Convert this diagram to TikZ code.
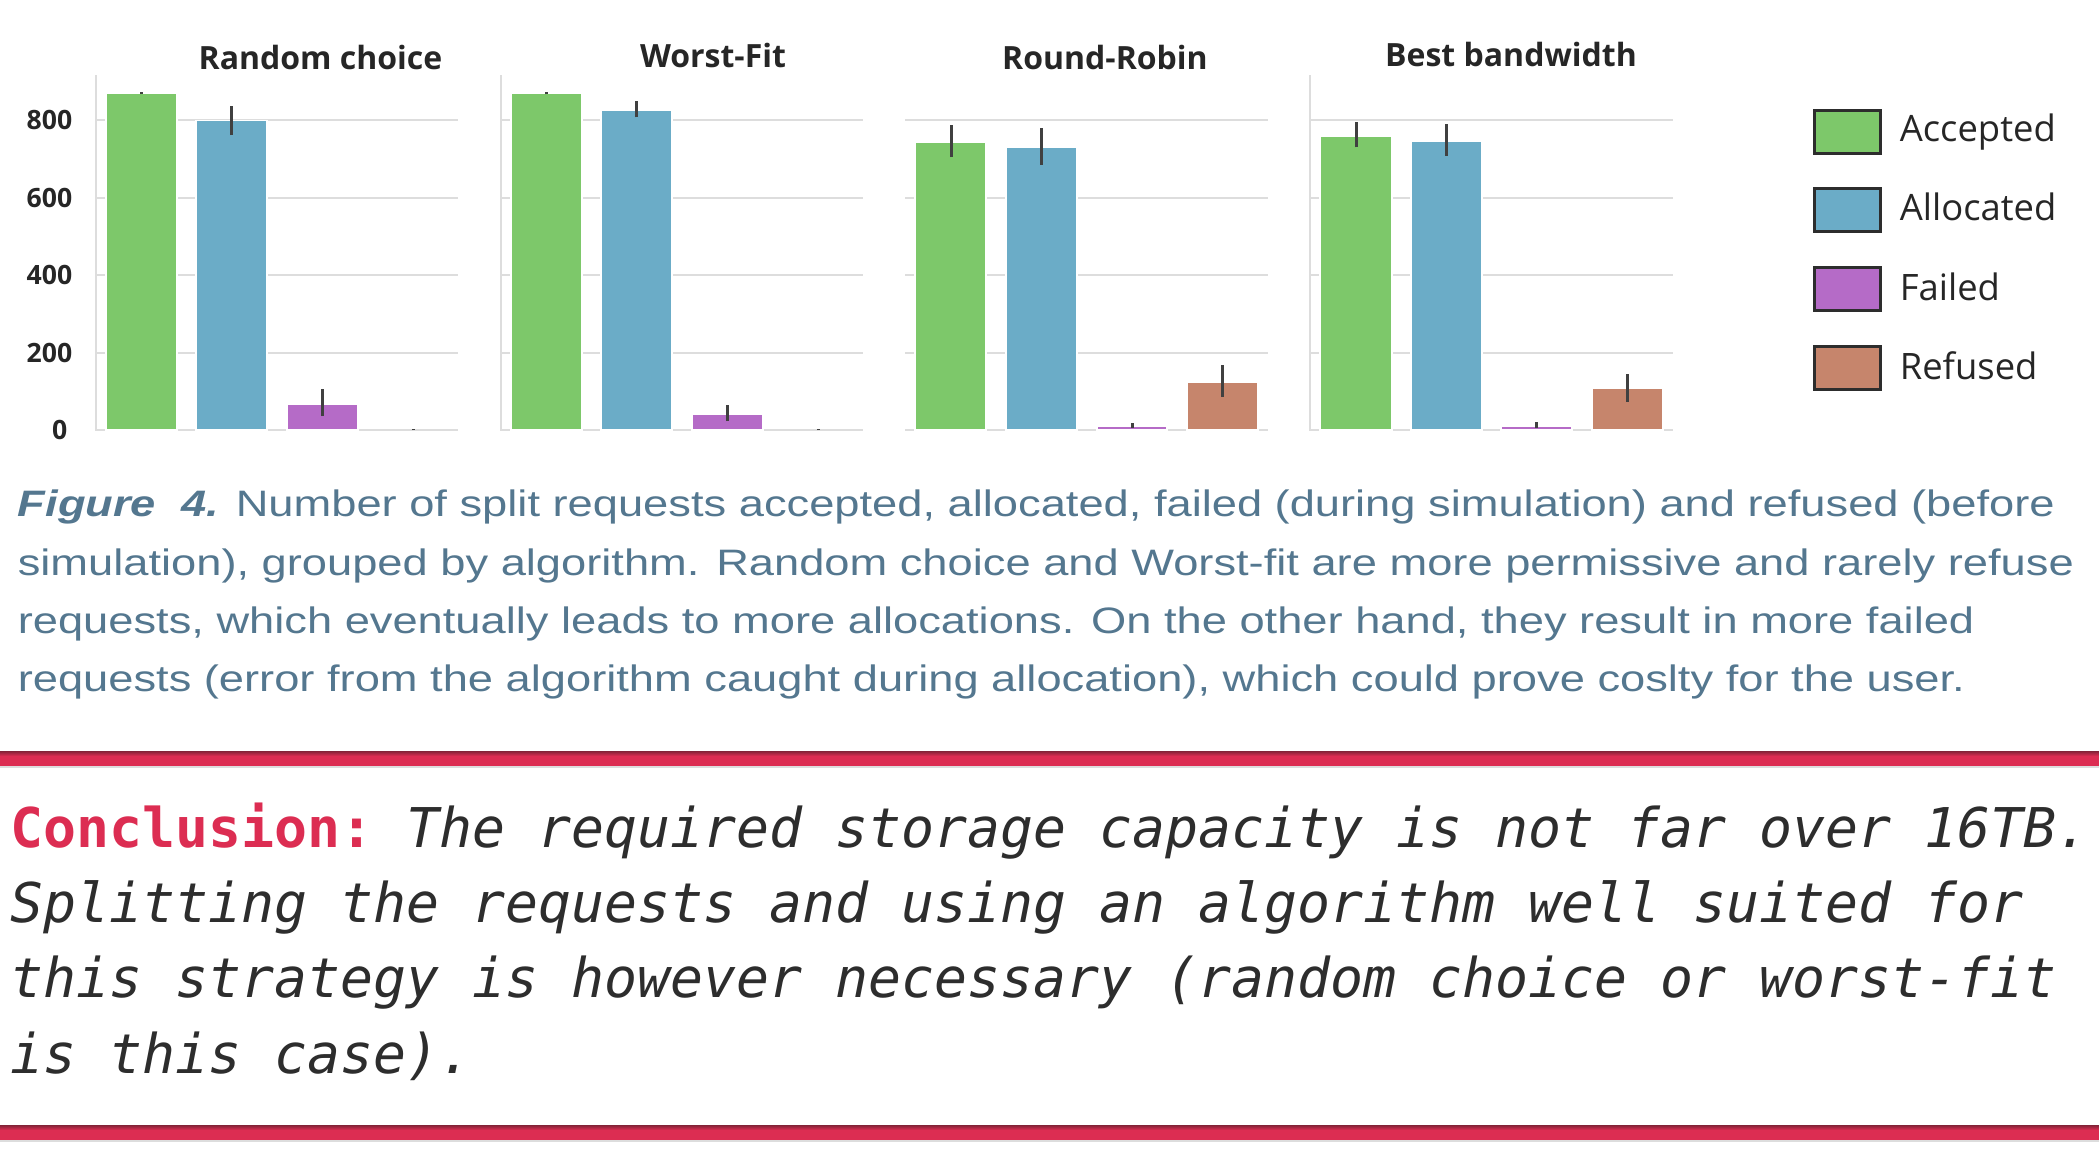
\documentclass[tikz,border=0pt]{standalone}
\usepackage{fontspec}
\setmainfont{Liberation Sans}[FakeStretch=1.23]
\newfontfamily\plotfont{Open Sans}
\newfontfamily\codefont{DejaVu Sans Mono}[ItalicFont={DejaVu Sans Mono Oblique},BoldFont={DejaVu Sans Mono Bold}]

\definecolor{accgreen}{RGB}{125,200,106}
\definecolor{allocblue}{RGB}{107,172,199}
\definecolor{failpurple}{RGB}{181,107,199}
\definecolor{refbrown}{RGB}{198,133,108}
\definecolor{gridgray}{RGB}{221,221,221}
\definecolor{errgray}{RGB}{64,64,64}
\definecolor{textdark}{RGB}{38,38,38}
\definecolor{legframe}{RGB}{45,45,45}
\definecolor{capblue}{RGB}{84,119,143}
\definecolor{conred}{RGB}{220,45,82}
\definecolor{bandtop}{RGB}{130,35,55}
\definecolor{condark}{RGB}{45,45,45}

\tikzset{
  plotbar/.style={draw=white, line width=0.4pt},
  gridline/.style={gridgray, line width=0.5pt},
  errbar/.style={errgray, line width=0.75pt},
  ticklabel/.style={anchor=east, inner sep=0pt, text=textdark, font=\plotfont\bfseries\fontsize{6.65}{8}\selectfont},
  paneltitle/.style={anchor=base, inner sep=0pt, text=textdark, font=\plotfont\bfseries\fontsize{8}{10}\selectfont},
  legbox/.style={draw=legframe, line width=0.75pt},
  legtext/.style={anchor=base west, inner sep=0pt, text=textdark, font=\plotfont\fontsize{9.1}{11}\selectfont},
  capline/.style={anchor=base west, inner sep=0pt, text=capblue, font=\fontsize{9.2}{11}\selectfont},
  conline/.style={anchor=base west, inner sep=0pt, text=condark, font=\codefont\itshape\frenchspacing\fontsize{13.7}{16}\selectfont},
}

\begin{document}
\begin{tikzpicture}[x=0.25pt, y=-0.25pt]
\useasboundingbox (0,0) rectangle (2099,1170);

% Random choice
\begin{scope}[shift={(96,430)}, y=0.09675pt]
  \foreach \v in {200,400,600,800} \draw[gridline] (0,\v) -- (362,\v);
  \draw[gridline] (0,917) -- (0,0) -- (362,0);
  \filldraw[plotbar, fill=accgreen] (10,0) rectangle (81,870);
  \filldraw[plotbar, fill=allocblue] (100,0) rectangle (171,800);
  \filldraw[plotbar, fill=failpurple] (191,0) rectangle (262,67);
  \draw[errbar] (45.5,867) -- (45.5,873);
  \draw[errbar] (135.5,762) -- (135.5,837);
  \draw[errbar] (226.5,36) -- (226.5,105);
  \draw[errbar] (317,0) -- (317,2);
  \node[ticklabel] (tick0) at (-28,0) {0};
  \foreach \v in {200,400,600,800} \node[ticklabel] (tick\v) at (-23,\v) {\v};
\end{scope}

% Worst-Fit
\begin{scope}[shift={(501,430)}, y=0.09675pt]
  \foreach \v in {200,400,600,800} \draw[gridline] (0,\v) -- (362,\v);
  \draw[gridline] (0,917) -- (0,0) -- (362,0);
  \filldraw[plotbar, fill=accgreen] (10,0) rectangle (81,870);
  \filldraw[plotbar, fill=allocblue] (100,0) rectangle (171,827);
  \filldraw[plotbar, fill=failpurple] (191,0) rectangle (262,41);
  \draw[errbar] (45.5,867) -- (45.5,873);
  \draw[errbar] (135.5,808) -- (135.5,851);
  \draw[errbar] (226.5,23) -- (226.5,65);
  \draw[errbar] (317,0) -- (317,2);
\end{scope}

% Round-Robin
\begin{scope}[shift={(905,430)}, y=0.09675pt]
  \foreach \v in {200,400,600,800} \draw[gridline] (0,\v) -- (363,\v);
  \draw[gridline] (0,0) -- (363,0);
  \filldraw[plotbar, fill=accgreen] (10,0) rectangle (81,743);
  \filldraw[plotbar, fill=allocblue] (101,0) rectangle (172,732);
  \filldraw[plotbar, fill=failpurple] (192,0) rectangle (262,10);
  \filldraw[plotbar, fill=refbrown] (282,0) rectangle (353,124);
  \draw[errbar] (46,705) -- (46,789);
  \draw[errbar] (136.5,686) -- (136.5,781);
  \draw[errbar] (227,6) -- (227,17);
  \draw[errbar] (317.5,86) -- (317.5,167);
\end{scope}

% Best bandwidth
\begin{scope}[shift={(1310,430)}, y=0.09675pt]
  \foreach \v in {200,400,600,800} \draw[gridline] (0,\v) -- (363,\v);
  \draw[gridline] (0,917) -- (0,0) -- (363,0);
  \filldraw[plotbar, fill=accgreen] (10,0) rectangle (82,760);
  \filldraw[plotbar, fill=allocblue] (101,0) rectangle (172,747);
  \filldraw[plotbar, fill=failpurple] (191,0) rectangle (262,10);
  \filldraw[plotbar, fill=refbrown] (282,0) rectangle (353,109);
  \draw[errbar] (46,730) -- (46,795);
  \draw[errbar] (136.5,709) -- (136.5,790);
  \draw[errbar] (226.5,6) -- (226.5,20);
  \draw[errbar] (317.5,73) -- (317.5,146);
\end{scope}

% titles
\node[paneltitle] (trandom) at (320.5,69) {Random choice};
\node[paneltitle] (tworst) at (713,67) {Worst-Fit};
\node[paneltitle] (tround) at (1105,69) {Round-Robin};
\node[paneltitle] (tbest) at (1511,66) {Best bandwidth};

% legend
\foreach \i/\name/\col in {0/Accepted/accgreen, 1/Allocated/allocblue, 2/Failed/failpurple, 3/Refused/refbrown} {
  \draw[legbox, fill=\col] (1814,{110+78.7*\i}) rectangle +(66,43);
  \node[legtext] (leg\i) at (1899,{141+79.6*\i}) {\name};
}

% caption
\node[capline] (cap1) at (17,516) {\textbf{\textit{Figure\ \ 4.}} Number of split requests accepted, allocated, failed (during simulation) and refused (before};
\node[capline] (cap2) at (17,575) {simulation), grouped by algorithm. Random choice and Worst-fit are more permissive and rarely refuse};
\node[capline] (cap3) at (17,633) {requests, which eventually leads to more allocations. On the other hand, they result in more failed};
\node[capline] (cap4) at (17,691) {requests (error from the algorithm caught during allocation), which could prove coslty for the user.};

% conclusion box
\fill[conred] (0,751) rectangle (2099,766);
\shade[top color=bandtop, bottom color=conred] (0,751) rectangle (2099,756);
\draw[gridgray, line width=0.5pt] (0,767) -- (2099,767);
\fill[conred] (0,1125) rectangle (2099,1140);
\shade[top color=bandtop, bottom color=conred] (0,1125) rectangle (2099,1130);
\draw[gridgray, line width=0.5pt] (0,1141) -- (2099,1141);

\node[conline] (con1) at (10,847) {{\color{conred}\upshape\bfseries Conclusion:} The required storage capacity is not far over 16TB.};
\node[conline] (con2) at (10,922) {Splitting the requests and using an algorithm well suited for};
\node[conline] (con3) at (10,997) {this strategy is however necessary (random choice or worst-fit};
\node[conline] (con4) at (10,1073) {is this case).};
\end{tikzpicture}
\end{document}
